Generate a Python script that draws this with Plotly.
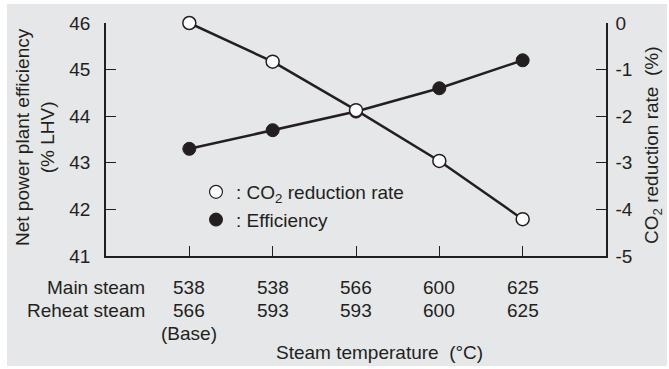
import plotly.graph_objects as go

# ---- data ----
main_steam = ["538", "538", "566", "600", "625"]
reheat_steam = ["566", "593", "593", "600", "625"]
base_note = ["(Base)", "", "", "", ""]
efficiency = [43.3, 43.7, 44.1, 44.6, 45.2]
co2_reduction = [0, -0.83, -1.87, -2.96, -4.21]
left_ticks = [41, 42, 43, 44, 45, 46]
right_ticks = [0, -1, -2, -3, -4, -5]
right_tick_text = ["0", "-1", "-2", "-3", "-4", "-5"]

xs = list(range(len(main_steam)))

FONT = "Liberation Sans, Arial, sans-serif"
TXT = "#231f20"
FS = 19

# plot area in pixels
W, H = 669, 369
L, R, T, B = 106, 606, 23, 256
pw, ph = R - L, B - T


def px_x(p):
    return (p - L) / pw


def px_y(p):
    return (B - p) / ph


fig = go.Figure()

fig.add_trace(go.Scatter(
    x=xs, y=efficiency, mode="lines+markers", yaxis="y", showlegend=False,
    cliponaxis=False,
    line=dict(color=TXT, width=2.5),
    marker=dict(symbol="circle", size=13, color=TXT, line=dict(color=TXT, width=1)),
))
fig.add_trace(go.Scatter(
    x=xs, y=co2_reduction, mode="lines+markers", yaxis="y2", showlegend=False,
    cliponaxis=False,
    line=dict(color=TXT, width=2.5),
    marker=dict(symbol="circle", size=13, color="white", line=dict(color=TXT, width=1.5)),
))
# legend entries
fig.add_trace(go.Scatter(
    x=[None], y=[None], mode="markers", name=": CO<sub>2</sub> reduction rate",
    legendgroup="a",
    marker=dict(symbol="circle", size=13, color="white", line=dict(color=TXT, width=1.2)),
))
fig.add_trace(go.Scatter(
    x=[None], y=[None], mode="markers", name=": Efficiency",
    legendgroup="b",
    marker=dict(symbol="circle", size=13, color=TXT, line=dict(color=TXT, width=1)),
))

annotations = []
for i in xs:
    annotations.append(dict(x=i, xref="x", y=px_y(287), yref="paper", text=main_steam[i],
                            showarrow=False, xanchor="center", yanchor="middle"))
    annotations.append(dict(x=i, xref="x", y=px_y(310.5), yref="paper", text=reheat_steam[i],
                            showarrow=False, xanchor="center", yanchor="middle"))
    if base_note[i]:
        annotations.append(dict(x=i, xref="x", y=px_y(333), yref="paper", text=base_note[i],
                                showarrow=False, xanchor="center", yanchor="middle"))
annotations += [
    dict(x=px_x(147), xref="paper", y=px_y(287), yref="paper", text="Main steam",
         showarrow=False, xanchor="right", yanchor="middle"),
    dict(x=px_x(147), xref="paper", y=px_y(310.5), yref="paper", text="Reheat steam",
         showarrow=False, xanchor="right", yanchor="middle"),
    dict(x=px_x(379), xref="paper", y=px_y(352), yref="paper", text="Steam temperature  (°C)",
         showarrow=False, xanchor="center", yanchor="middle"),
    dict(x=px_x(35), xref="paper", y=px_y(137), yref="paper",
         text="Net power plant efficiency<br>(% LHV)", textangle=-90,
         showarrow=False, xanchor="center", yanchor="middle"),
    dict(x=px_x(653), xref="paper", y=px_y(146), yref="paper",
         text="CO<sub>2</sub> reduction rate  (%)", textangle=-90,
         showarrow=False, xanchor="center", yanchor="middle"),
]

fig.update_layout(
    width=W, height=H,
    margin=dict(l=L, r=W - R, t=T, b=H - B),
    paper_bgcolor="white",
    plot_bgcolor="white",
    font=dict(family=FONT, size=FS, color=TXT),
    annotations=annotations,
    shapes=[dict(type="rect", xref="paper", yref="paper",
                 x0=px_x(7), x1=px_x(667), y0=px_y(366), y1=px_y(4),
                 fillcolor="#e6e7e8", line=dict(width=0), layer="below")],
    xaxis=dict(range=[-1, 5], tickvals=xs, showticklabels=False,
               ticks="inside", ticklen=10, tickcolor=TXT, tickwidth=1.3,
               showline=True, linecolor=TXT, linewidth=1.5, showgrid=False,
               zeroline=False, fixedrange=True),
    yaxis=dict(range=[41, 46], tickvals=left_ticks, ticks="inside", ticklen=10,
               tickcolor=TXT, tickwidth=1.3, showline=True, linecolor=TXT, linewidth=1.5,
               showgrid=False, zeroline=False, ticklabelstandoff=10),
    yaxis2=dict(range=[-5, 0], tickvals=right_ticks, ticktext=right_tick_text,
                overlaying="y", side="right", ticks="inside", ticklen=10,
                tickcolor=TXT, tickwidth=1.3, showline=True, linecolor=TXT, linewidth=1.5,
                showgrid=False, zeroline=False, ticklabelstandoff=4),
    legend=dict(x=px_x(196), y=px_y(173), xanchor="left", yanchor="top",
                bgcolor="rgba(0,0,0,0)", font=dict(size=FS), tracegroupgap=0,
                itemwidth=30, traceorder="grouped"),
    showlegend=True,
)

fig.write_html(
    "out.html",
    config={"displayModeBar": False},
    post_script="document.body.style.margin='0';document.body.style.overflow='hidden';",
)
